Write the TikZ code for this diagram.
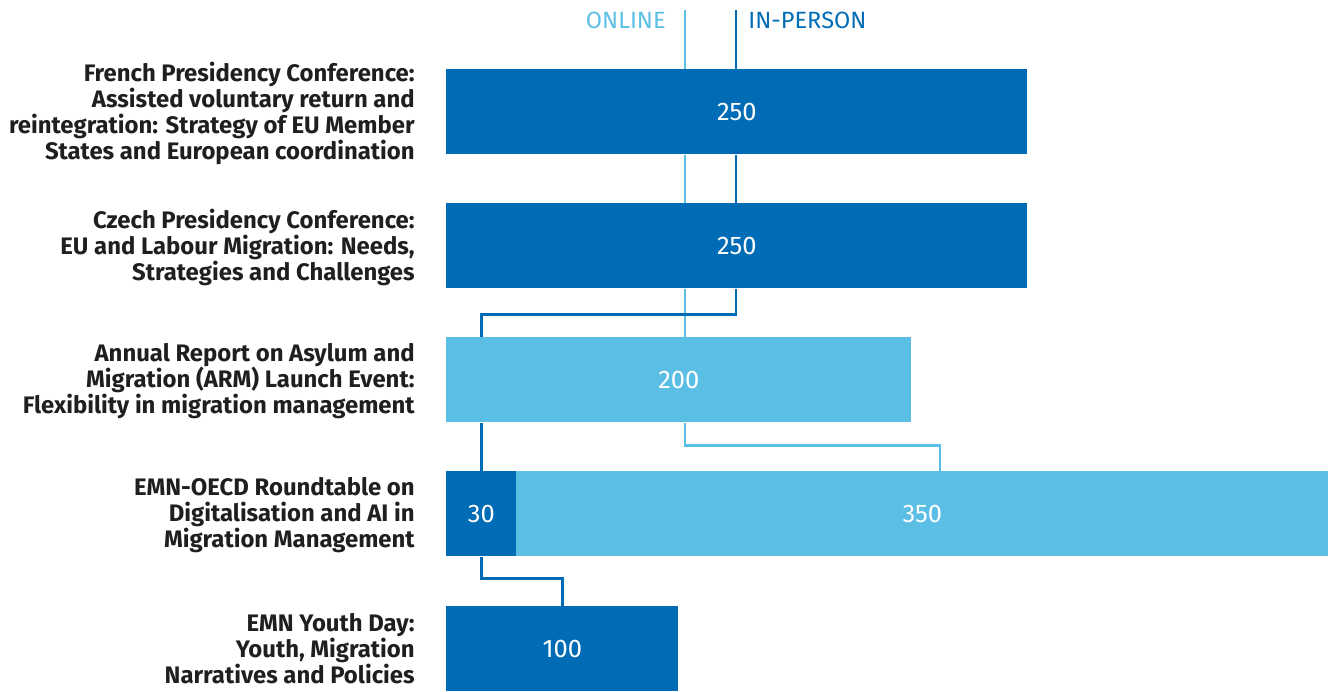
\documentclass[tikz,border=0pt]{standalone}
\usepackage{fontspec}
\setmainfont{Fira Sans}
\usepackage{tikz}
\definecolor{inperson}{HTML}{006CB5}
\definecolor{online}{HTML}{5BBFE5}
\tikzset{%
	bar/.style      = {rectangle, anchor = north west, inner sep = 0pt,
		minimum height = 85*0.02cm, text = white, font = \fontsize{14.5}{16}\selectfont},
	inbar/.style    = {bar, fill = inperson}, % In-person
	onbar/.style    = {bar, fill = online}, % Online
	event/.style    = {anchor = east, align = right, inner sep = 0pt, text = black!88,
		font = \fontsize{13.6}{14.8}\selectfont\bfseries},
	inline/.style   = {draw = inperson, line width = 1.6pt},
	online/.style   = {draw = online, line width = 1.6pt}
}
\begin{document}
\begin{tikzpicture}[x=0.02cm,y=-0.02cm]
			\useasboundingbox (0,0) rectangle (1328,691);
			
			\node[anchor=east,inner sep=0pt,text=online,font=\fontsize{13.4}{14}\selectfont] (ontitle) at (666,20) {ONLINE};
			\node[anchor=west,inner sep=0pt,text=inperson,font=\fontsize{13.4}{14}\selectfont] (intitle) at (748,20) {IN-PERSON};
			\coordinate (ontop) at (685,10);
			\coordinate (intop) at (736,10);
			\coordinate (ondrop) at (940,0);
			
			\node[inbar,minimum width=581*0.02cm] (bar1) at (446,69) {250};
			\node[inbar,minimum width=581*0.02cm] (bar2) at (446,203) {250};
			\node[onbar,minimum width=465*0.02cm] (bar3) at (446,337) {200};
			\node[inbar,minimum width=70*0.02cm] (bar4a) at (446,471) {30};
			\node[onbar,minimum width=812*0.02cm] (bar4b) at (516,471) {350};
			\node[inbar,minimum width=232*0.02cm] (bar5) at (446,606) {100};
			
			\node[event] (ev1) at (415,113) {French Presidency Conference:\\Assisted voluntary return and\\reintegration: Strategy of EU Member\\States and European coordination};
			\node[event] (ev2) at (415,247) {Czech Presidency Conference:\\EU and Labour Migration: Needs,\\Strategies and Challenges};
			\node[event] (ev3) at (415,381) {Annual Report on Asylum and\\Migration (ARM) Launch Event:\\Flexibility in migration management};
			\node[event] (ev4) at (415,515) {EMN-OECD Roundtable on\\Digitalisation and AI in\\Migration Management};
			\node[event] (ev5) at (415,649) {EMN Youth Day:\\Youth, Migration\\Narratives and Policies};
			
			% online
			\draw[online] (ontop) -- (ontop |- bar1.north);
			\draw[online] (ontop |- bar1.south) -- (ontop |- bar2.north);
			\draw[online] (ontop |- bar2.south) -- (ontop |- bar3.north);
			\draw[online] (ontop |- bar3.south) -- ++(0,23) -| (ondrop |- bar4b.north);
			
			% in-person
			\draw[inline] (intop) -- (intop |- bar1.north);
			\draw[inline] (intop |- bar1.south) -- (intop |- bar2.north);
			\draw[inline] (intop |- bar2.south) -- ++(0,26) -| (bar4a |- bar3.north);
			\draw[inline] (bar4a |- bar3.south) -- (bar4a.north);
			\draw[inline] (bar4a.south) -- ++(0,22) -| (bar5.north);
		\end{tikzpicture}
\end{document}
